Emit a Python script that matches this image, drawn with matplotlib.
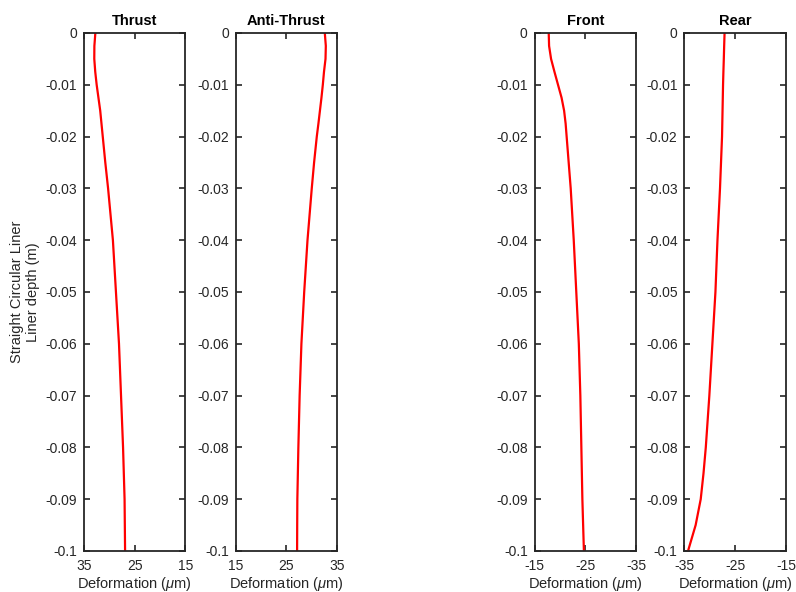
import matplotlib
matplotlib.use("Agg")
import matplotlib.pyplot as plt

plt.rcParams['font.family'] = ['Liberation Sans', 'DejaVu Sans']
plt.rcParams['axes.unicode_minus'] = False
plt.rcParams['mathtext.fontset'] = 'custom'
plt.rcParams['mathtext.it'] = 'Liberation Sans:italic'
plt.rcParams['mathtext.rm'] = 'Liberation Sans'

depth = [0.0, -0.0025, -0.005, -0.0075, -0.01, -0.0125, -0.015, -0.0175, -0.02,
         -0.025, -0.03, -0.04, -0.05, -0.06, -0.07, -0.08, -0.085, -0.09, -0.095, -0.1]

thrust = [32.76, 32.95, 32.97, 32.78, 32.5, 32.15, 31.8, 31.55, 31.3,
          30.8, 30.25, 29.3, 28.7, 28.1, 27.7, 27.3, 27.15, 27.0, 26.95, 26.9]
anti_thrust = [32.56, 32.76, 32.7, 32.4, 32.17, 31.9, 31.6, 31.3, 30.98,
               30.45, 29.99, 29.15, 28.5, 27.95, 27.6, 27.35, 27.25, 27.15, 27.12, 27.1]
front = [-17.77, -17.84, -18.23, -18.9, -19.6, -20.3, -20.8, -21.1, -21.3,
         -21.7, -22.1, -22.7, -23.2, -23.7, -24.0, -24.2, -24.3, -24.4, -24.55, -24.7]
rear = [-27.1, -27.18, -27.25, -27.33, -27.4, -27.45, -27.5, -27.55, -27.6,
        -27.8, -28.0, -28.5, -28.9, -29.5, -30.1, -30.8, -31.25, -31.8, -32.8, -34.3]

titles = ['Thrust', 'Anti-Thrust', 'Front', 'Rear']
series = [thrust, anti_thrust, front, rear]
xlims = [(35, 15), (15, 35), (-15, -35), (-35, -15)]
xticks = [[35, 25, 15], [15, 25, 35], [-15, -25, -35], [-35, -25, -15]]
yticks = [0, -0.01, -0.02, -0.03, -0.04, -0.05, -0.06, -0.07, -0.08, -0.09, -0.1]
yticklabels = ['0', '-0.01', '-0.02', '-0.03', '-0.04', '-0.05', '-0.06', '-0.07', '-0.08', '-0.09', '-0.1']

fig = plt.figure(figsize=(7.96, 5.92), dpi=100)
lefts = [0.1055, 0.2961, 0.6717, 0.8599]
w, b, h = 0.1275, 0.0693, 0.875
edge = '#262626'

for i in range(4):
    ax = fig.add_axes([lefts[i], b, w, h])
    ax.plot(series[i], depth, color='red', lw=1.6)
    ax.set_xlim(*xlims[i])
    ax.set_ylim(-0.1, 0)
    ax.set_xticks(xticks[i])
    ax.set_xticklabels([str(t) for t in xticks[i]])
    ax.set_yticks(yticks)
    ax.set_yticklabels(yticklabels)
    ax.tick_params(direction='in', length=4, width=1.2, colors=edge, labelcolor=edge,
                   labelsize=10, top=True, right=True)
    ax.tick_params(axis='y', pad=5)
    ax.tick_params(axis='x', pad=6)
    for s in ax.spines.values():
        s.set_color(edge)
        s.set_linewidth(1.3)
    ax.set_title(titles[i], fontsize=10.5, fontweight='bold', color='black', pad=6)
    ax.set_xlabel('Deformation ($\\mu$m)', fontsize=10.5, color=edge, labelpad=1)
    if i == 0:
        ax.set_ylabel('Straight Circular Liner\nLiner depth (m)', fontsize=10.5, color=edge, labelpad=4)

fig.savefig('out.png', dpi=100)
